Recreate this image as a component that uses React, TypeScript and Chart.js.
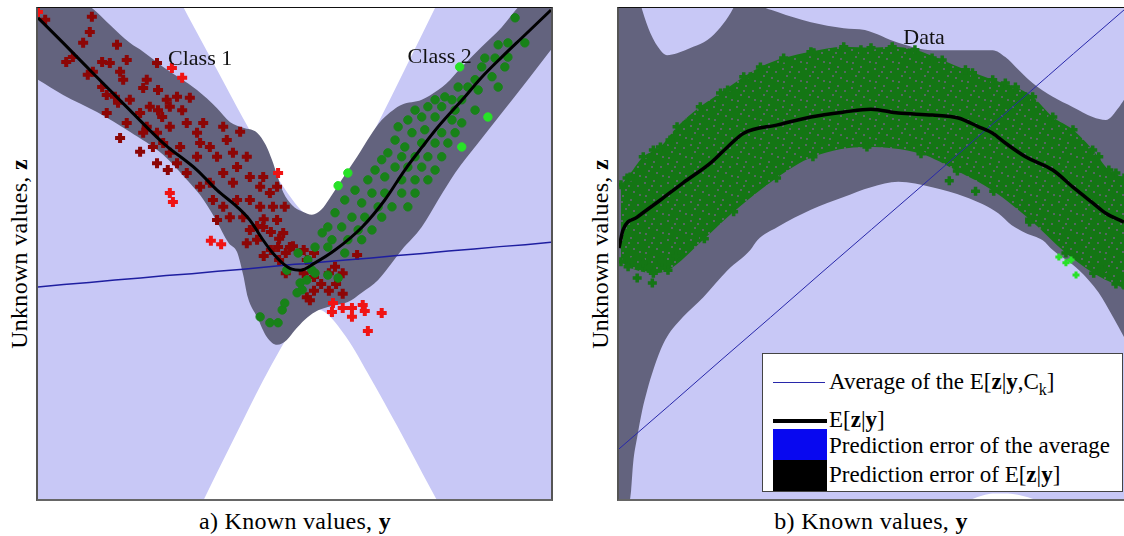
import React, { useEffect, useRef } from "react";
import { Chart, registerables } from "chart.js";

Chart.register(...registerables);

// ---------------- LEFT PANEL (a) ----------------
// Average of the class-conditional expectations and its prediction error
const leftBandX = [0, 5, 10, 15, 20, 25, 30, 35, 40, 45, 50, 52, 54, 56, 60, 65, 70, 75, 80, 85, 90, 95, 100];
const leftAvg = [43.2, 43.7, 44.1, 44.6, 45.0, 45.5, 45.9, 46.4, 46.8, 47.3, 47.8, 47.9, 48.1, 48.3, 48.7, 49.1, 49.6, 50.0, 50.5, 50.9, 51.4, 51.8, 52.3];
const leftAvgErr = [113.3, 102.8, 92.5, 82.0, 71.7, 61.3, 51.0, 40.8, 30.7, 21.0, 12.6, 10.3, 9.4, 10.3, 15.6, 24.8, 34.7, 44.9, 55.1, 65.5, 75.8, 86.2, 96.6];

// E[z|y]
const leftMeanX = [0, 4.9, 11.5, 17.9, 24.4, 31.0, 34.9, 38.8, 41.3, 43.9, 45.6, 47.6, 49.5, 51.1, 54.0, 57.9, 63.2, 67.6, 71.5, 74.9, 78.0, 82.7, 86.5, 90.4, 94.5, 100];
const leftMeanY = [98.0, 92.9, 85.9, 79.2, 72.5, 67.0, 62.9, 59.5, 56.8, 52.7, 50.3, 48.1, 46.8, 46.6, 48.1, 50.7, 55.4, 60.9, 67.0, 71.7, 75.8, 81.3, 85.9, 90.0, 94.1, 99.6];

// prediction error band of E[z|y]
const leftErrUpX = [0, 6.2, 10.5, 14.0, 17.9, 20.5, 24.4, 31.0, 34.9, 37.4, 40.0, 42.7, 44.4, 45.6, 46.6, 47.8, 49.5, 51.6, 53.4, 55.2, 56.9, 59.2, 62.2, 64.7, 67.0, 69.2, 70.9, 74.8, 78.0, 79.5, 82.6, 86.5, 90.4, 92.8, 95.9, 100];
const leftErrUpY = [105.7, 102.7, 100.0, 96.6, 92.9, 91.1, 88.0, 83.3, 79.6, 76.8, 75.6, 74.6, 72.1, 69.1, 66.0, 62.5, 59.9, 58.5, 57.9, 58.9, 61.3, 65.0, 69.7, 73.9, 77.2, 79.2, 80.3, 81.3, 83.3, 84.5, 88.0, 92.1, 96.1, 99.2, 102.7, 105.7];
const leftErrLoX = [0, 4.9, 11.5, 17.9, 24.4, 28.7, 31.6, 34.5, 37.2, 38.8, 40.0, 40.9, 42.7, 44.6, 46.6, 48.5, 50.1, 52.0, 54.0, 56.5, 60.4, 63.1, 66.3, 69.0, 70.9, 74.8, 78.0, 81.3, 85.8, 90.4, 95.5, 100];
const leftErrLoY = [85.4, 82.3, 78.8, 74.8, 70.1, 65.4, 61.9, 57.2, 52.1, 50.3, 45.6, 41.1, 37.1, 33.0, 31.4, 32.4, 34.4, 36.5, 38.1, 39.1, 40.1, 42.0, 44.6, 48.1, 50.7, 55.4, 60.9, 66.4, 72.5, 78.6, 85.4, 91.5];

// Class 1 samples (dark red) and outliers (bright red)
const class1X = [1.4, 10.5, 10.1, 8.8, 15.4, 6.8, 5.5, 12.5, 14.0, 17.3, 9.7, 10.7, 16.0, 16.6, 12.5, 13.4, 15.0, 13.4, 15.6, 17.9, 20.5, 21.2, 23.2, 23.4, 25.1, 23.4, 21.8, 19.9, 17.3, 21.2, 24.2, 25.7, 27.1, 29.6, 28.1, 29.0, 25.7, 23.2, 20.5, 16.0, 19.9, 22.4, 24.4, 25.7, 27.7, 23.2, 25.3, 27.1, 29.0, 31.0, 31.6, 31.0, 33.5, 32.2, 36.1, 39.4, 36.8, 34.9, 38.0, 40.7, 38.8, 36.1, 33.5, 31.6, 34.1, 38.0, 41.3, 43.9, 43.3, 45.2, 46.6, 41.3, 38.8, 36.1, 37.4, 40.0, 43.3, 45.8, 48.1, 34.9, 41.3, 43.9, 46.6, 47.8, 42.7, 40.7, 46.8, 49.1, 42.7, 44.0, 45.4, 47.0, 45.4, 48.3, 44.0, 47.0, 49.7, 51.8, 52.4, 53.8, 48.3, 51.8, 53.8, 55.2, 56.7, 58.1, 59.4, 53.8, 56.7, 52.4, 62.2, 59.4, 57.9, 53.0];
const class1Y = [97.6, 98.2, 95.1, 92.9, 92.5, 90.0, 89.0, 89.0, 88.8, 89.4, 86.4, 87.0, 87.0, 85.4, 83.9, 82.3, 81.9, 78.6, 80.7, 81.3, 83.7, 85.4, 88.8, 83.3, 81.3, 79.2, 79.9, 78.6, 76.6, 75.8, 77.8, 79.9, 81.9, 81.7, 79.2, 76.6, 75.8, 74.6, 74.6, 73.5, 70.7, 71.7, 72.5, 70.5, 71.7, 68.4, 67.0, 68.4, 66.4, 69.7, 72.5, 74.6, 71.7, 76.6, 75.8, 74.8, 73.1, 69.7, 70.5, 69.7, 67.6, 66.4, 64.4, 63.6, 60.9, 64.4, 65.6, 65.6, 63.6, 62.3, 63.6, 60.9, 60.9, 59.5, 57.4, 57.4, 59.5, 59.5, 59.5, 56.8, 54.8, 55.4, 56.8, 54.2, 52.8, 52.1, 51.3, 51.3, 55.6, 57.0, 54.4, 53.0, 50.7, 50.1, 49.5, 48.7, 51.5, 50.7, 48.7, 50.1, 46.0, 46.0, 45.2, 43.8, 46.0, 43.8, 46.0, 42.4, 42.4, 41.1, 49.7, 41.8, 47.3, 40.5];
const class1OutX = [0.0, 26.1, 28.1, 25.7, 26.3, 33.7, 35.7, 46.8, 57.5, 57.3, 59.4, 61.2, 61.2, 63.3, 63.7, 67.0, 64.3];
const class1OutY = [99.2, 87.8, 85.8, 62.3, 60.5, 52.6, 51.9, 66.4, 39.9, 38.1, 38.9, 38.9, 37.1, 39.5, 38.3, 37.9, 34.2];

// Class 2 samples (dark green) and outliers (bright green)
const class2X = [93.0, 94.9, 91.6, 89.7, 91.6, 89.1, 87.1, 86.5, 91.0, 85.2, 88.5, 83.8, 81.9, 85.8, 89.7, 77.4, 79.3, 80.7, 82.6, 76.0, 78.7, 81.3, 85.2, 73.5, 72.1, 74.8, 77.4, 80.7, 82.6, 70.2, 72.9, 75.4, 78.7, 81.3, 69.6, 71.5, 74.8, 77.4, 79.9, 68.2, 70.9, 73.5, 76.0, 78.7, 67.0, 69.6, 72.1, 74.8, 77.4, 65.7, 67.6, 70.9, 73.5, 76.0, 64.3, 61.8, 65.1, 67.6, 70.9, 73.5, 59.8, 63.1, 66.3, 69.0, 72.1, 57.9, 61.2, 63.7, 67.0, 56.5, 59.2, 62.4, 65.1, 55.4, 57.3, 60.4, 63.1, 54.0, 56.5, 50.7, 53.4, 54.0, 52.4, 51.1, 51.5, 56.5, 58.5, 59.8, 52.6, 50.5, 43.3, 45.2, 46.8, 47.6, 48.1, 48.5];
const class2Y = [98.0, 92.9, 92.9, 92.5, 90.0, 89.8, 89.8, 88.0, 88.0, 85.4, 86.0, 83.9, 83.9, 83.3, 83.9, 81.3, 81.9, 81.3, 81.3, 79.9, 79.9, 79.2, 79.2, 79.2, 77.2, 77.8, 77.8, 77.2, 76.6, 75.8, 74.6, 75.2, 74.6, 74.6, 73.1, 71.7, 72.5, 72.5, 72.5, 70.5, 69.7, 69.7, 69.7, 69.7, 69.1, 67.6, 67.6, 67.6, 67.0, 67.0, 65.6, 65.0, 65.0, 65.0, 65.0, 62.9, 62.3, 62.3, 62.3, 62.3, 60.9, 60.3, 59.5, 59.5, 59.5, 58.3, 57.4, 57.4, 57.4, 55.4, 55.4, 54.8, 54.8, 54.2, 52.8, 52.8, 52.8, 51.3, 51.3, 50.1, 46.6, 46.0, 44.6, 44.0, 42.6, 45.6, 45.0, 50.1, 48.7, 42.0, 37.1, 35.9, 35.9, 38.5, 39.9, 46.6];
const class2OutX = [82.2, 87.7, 82.6, 60.4, 58.5];
const class2OutY = [88.0, 77.8, 71.7, 66.4, 63.8];

const leftNoteText = ["Class 1", "Class 2"];
const leftNoteX = [31.6, 78.3];
const leftNoteY = [89.6, 90.0];

// ---------------- RIGHT PANEL (b) ----------------
const rightBandX = [0, 10, 20, 30, 40, 50, 60, 65, 70, 72, 74, 76, 78, 80, 82, 85, 90, 100];
const rightAvg = [10.2, 19.1, 28.1, 37.0, 46.0, 54.9, 63.8, 68.3, 72.8, 74.6, 76.4, 78.1, 79.9, 81.7, 83.5, 86.2, 90.7, 99.6];
const rightAvgErr = [168.4, 147.1, 126.7, 107.7, 91.2, 78.5, 71.8, 71.3, 72.8, 73.9, 75.3, 77.0, 78.9, 81.1, 83.5, 87.4, 94.9, 112.1];

const rightMeanX = [0, 0.8, 3.6, 8.2, 12.7, 18.1, 21.5, 24.7, 31.4, 38.0, 44.5, 49.9, 55.3, 62.0, 67.2, 71.2, 74.0, 76.5, 80.5, 85.9, 89.9, 93.8, 96.4, 100];
const rightMeanY = [51.1, 54.8, 57.4, 60.9, 64.4, 68.4, 71.7, 74.5, 76.2, 77.8, 78.8, 79.4, 78.6, 78.2, 77.6, 75.8, 74.5, 72.5, 69.7, 67.0, 63.5, 60.3, 58.2, 56.4];

const rightErrUpX = [0, 3.8, 4.6, 6.2, 8.2, 9.5, 11.5, 14.7, 17.5, 20.1, 22.1, 23.5, 25.0, 28.0, 31.4, 38.0, 44.5, 48.7, 55.3, 62.0, 67.2, 74.0, 76.5, 79.1, 81.9, 85.9, 89.9, 93.8, 96.4, 99.0, 100];
const rightErrUpY = [105.7, 102.6, 99.6, 94.9, 91.4, 90.4, 90.8, 92.1, 93.5, 96.1, 99.0, 101.6, 103.7, 100.6, 99.2, 97.1, 95.9, 95.5, 92.9, 91.4, 91.4, 91.4, 90.0, 87.4, 84.7, 81.9, 79.8, 77.8, 77.2, 79.8, 81.3];
const rightErrLoX = [0, 1.8, 2.4, 2.8, 3.6, 4.6, 5.6, 6.8, 8.2, 9.5, 12.7, 16.7, 21.5, 26.0, 27.4, 31.4, 38.0, 44.5, 49.9, 55.3, 62.0, 68.6, 75.1, 77.7, 80.5, 83.9, 85.9, 91.1, 95.0, 97.8, 100];
const rightErrLoY = [-6.3, -2.2, 1.8, 7.3, 12.6, 18.1, 22.2, 26.3, 30.3, 33.0, 37.1, 41.1, 46.6, 50.7, 52.7, 55.4, 58.9, 61.5, 63.5, 64.6, 63.5, 61.5, 58.2, 55.8, 54.2, 52.7, 50.7, 46.6, 42.0, 37.1, 33.0];

// dense data cloud: outer envelope + scattered edge samples
const cloudUpX = [0.4, 1.6, 4.8, 8.2, 11.5, 16.1, 20.1, 24.7, 28.0, 32.6, 38.0, 44.5, 49.9, 54.1, 58.6, 64.0, 68.6, 74.0, 78.5, 81.9, 85.9, 89.9, 93.8, 97.0, 100];
const cloudUpY = [64.0, 65.4, 69.7, 71.7, 75.8, 79.9, 82.7, 86.0, 88.0, 89.8, 91.1, 92.1, 91.9, 92.1, 91.5, 89.4, 87.4, 85.4, 83.9, 81.9, 77.8, 75.2, 71.1, 67.0, 65.4];
const cloudLoX = [0.4, 1.8, 6.8, 9.7, 16.9, 22.7, 31.2, 38.4, 49.1, 59.8, 67.0, 74.2, 81.3, 88.5, 94.0, 98.4, 100];
const cloudLoY = [48.3, 47.3, 46.0, 46.6, 53.0, 58.5, 65.4, 69.7, 71.7, 70.3, 66.8, 62.7, 57.0, 50.1, 46.0, 43.8, 43.6];
const cloudEdgeX = [2.2, 6.8, 10.1, 13.5, 21.5, 26.0, 38.6, 47.9, 62.0, 70.0, 76.5, 80.5, 95.0, 98.4, 2.6, 5.8, 8.5, 11.3, 3.6, 6.6, 95.6, 99.8, 65.4, 70.6, 81.3, 4.8];
const cloudEdgeY = [65.6, 71.1, 73.1, 76.6, 83.3, 86.0, 90.9, 91.5, 89.8, 86.8, 84.7, 81.9, 69.7, 66.4, 48.3, 47.1, 48.3, 49.5, 45.0, 44.0, 46.6, 43.8, 64.8, 62.7, 56.4, 48.1];
const cloudOutX = [87.1, 88.5, 89.5, 90.5];
const cloudOutY = [49.3, 48.1, 48.7, 45.6];

const rightNoteText = ["Data"];
const rightNoteX = [60.4];
const rightNoteY = [93.9];

// ---------------- styles ----------------
const LAVENDER = "rgb(200,200,246)";
const GRAY = "rgb(99,99,126)";
const DARK_RED = "rgb(140,6,6)";
const BRIGHT_RED = "rgb(240,20,20)";
const DARK_GREEN = "rgb(24,130,24)";
const CLOUD_GREEN = "rgb(20,118,20)";
const BRIGHT_GREEN = "rgb(40,225,40)";
const SERIF = '"Liberation Serif", "Times New Roman", serif';

// speckled fill imitating the densely packed markers of the data cloud
function cloudPattern(): any {
  const c = document.createElement("canvas");
  c.width = 23;
  c.height = 19;
  const g = c.getContext("2d") as CanvasRenderingContext2D;
  g.fillStyle = CLOUD_GREEN;
  g.fillRect(0, 0, 23, 19);
  g.fillStyle = "rgb(84,104,96)";
  const specks = [[2, 3], [11, 1], [18, 6], [6, 10], [14, 12], [20, 15], [3, 16], [9, 6]];
  specks.forEach(([x, y]) => g.fillRect(x, y, 2, 2));
  return g.createPattern(c, "repeat");
}

const pts = (xs: number[], ys: number[]) => xs.map((x, i) => ({ x, y: ys[i] }));

const hidden = (data: any[], order: number) => ({
  data,
  borderWidth: 0,
  pointRadius: 0,
  fill: false,
  order,
  cubicInterpolationMode: "monotone",
});

const band = (data: any[], target: number, color: any, order: number) => ({
  data,
  borderWidth: 0,
  borderColor: "rgba(0,0,0,0)",
  backgroundColor: color,
  pointRadius: 0,
  fill: target,
  order,
  cubicInterpolationMode: "monotone",
});

const scatter = (data: any[], color: string, style: string, r: number, bw: number, order: number) => ({
  data,
  showLine: false,
  pointStyle: style,
  pointRadius: r,
  pointBorderWidth: bw,
  pointBackgroundColor: color,
  pointBorderColor: color,
  order,
});

const curve = (data: any[], color: string, width: number, order: number, mono = true) => ({
  data,
  borderColor: color,
  borderWidth: width,
  pointRadius: 0,
  fill: false,
  order,
  cubicInterpolationMode: mono ? "monotone" : "default",
});

const notesPlugin = (texts: string[], xs: number[], ys: number[]) => ({
  id: "notes",
  afterDatasetsDraw(chart: any) {
    const { ctx, scales } = chart;
    ctx.save();
    ctx.font = `22px ${SERIF}`;
    ctx.fillStyle = "#111";
    ctx.textAlign = "center";
    ctx.textBaseline = "middle";
    texts.forEach((t, i) => {
      ctx.fillText(t, scales.x.getPixelForValue(xs[i]), scales.y.getPixelForValue(ys[i]));
    });
    ctx.restore();
  },
});

const baseOptions: any = {
  responsive: false,
  animation: false,
  events: [],
  layout: { padding: 0, autoPadding: false },
  plugins: { legend: { display: false }, tooltip: { enabled: false } },
  scales: {
    x: { type: "linear", min: 0, max: 100, display: false },
    y: { type: "linear", min: 0, max: 100, display: false },
  },
  elements: { point: { radius: 0 } },
};

function leftConfig(): any {
  const avgLo = leftBandX.map((x, i) => ({ x, y: leftAvg[i] - leftAvgErr[i] }));
  const avgHi = leftBandX.map((x, i) => ({ x, y: leftAvg[i] + leftAvgErr[i] }));
  return {
    type: "line",
    data: {
      datasets: [
        hidden(avgLo, 20),
        band(avgHi, 0, LAVENDER, 20),
        hidden(pts(leftErrLoX, leftErrLoY), 18),
        band(pts(leftErrUpX, leftErrUpY), 2, GRAY, 18),
        scatter(pts(class1X, class1Y), DARK_RED, "cross", 5, 4, 8),
        scatter(pts(class1OutX, class1OutY), BRIGHT_RED, "cross", 5, 4, 8),
        scatter(pts(class2X, class2Y), DARK_GREEN, "circle", 4.2, 1, 7),
        scatter(pts(class2OutX, class2OutY), BRIGHT_GREEN, "circle", 4.2, 1, 7),
        curve(pts(leftBandX, leftAvg), "rgb(30,30,160)", 1.5, 3, false),
        curve(pts(leftMeanX, leftMeanY), "#000", 3, 2),
      ],
    },
    options: baseOptions,
    plugins: [notesPlugin(leftNoteText, leftNoteX, leftNoteY)],
  };
}

function rightConfig(): any {
  const avgLo = rightBandX.map((x, i) => ({ x, y: rightAvg[i] - rightAvgErr[i] }));
  const avgHi = rightBandX.map((x, i) => ({ x, y: rightAvg[i] + rightAvgErr[i] }));
  const cloudLo = hidden(pts(cloudLoX, cloudLoY), 10);
  const cloudHi = band(pts(cloudUpX, cloudUpY), 4, cloudPattern(), 10);
  const edgePts = { pointRadius: 4.5, pointStyle: "cross", pointBorderWidth: 3.5, pointBorderColor: CLOUD_GREEN, pointBackgroundColor: CLOUD_GREEN };
  return {
    type: "line",
    data: {
      datasets: [
        hidden(avgLo, 20),
        band(avgHi, 0, LAVENDER, 20),
        hidden(pts(rightErrLoX, rightErrLoY), 18),
        band(pts(rightErrUpX, rightErrUpY), 2, GRAY, 18),
        Object.assign(cloudLo, edgePts),
        Object.assign(cloudHi, edgePts),
        scatter(pts(cloudEdgeX, cloudEdgeY), CLOUD_GREEN, "cross", 4.5, 3.5, 9),
        scatter(pts(cloudOutX, cloudOutY), BRIGHT_GREEN, "cross", 3.5, 3, 9),
        curve(pts(rightBandX, rightAvg), "rgb(40,40,170)", 1, 3, false),
        curve(pts(rightMeanX, rightMeanY), "#000", 3.5, 2),
      ],
    },
    options: baseOptions,
    plugins: [notesPlugin(rightNoteText, rightNoteX, rightNoteY)],
  };
}

const titleStyle: React.CSSProperties = {
  position: "absolute",
  whiteSpace: "nowrap",
  fontSize: 24,
  letterSpacing: 0.3,
  lineHeight: "26px",
  fontFamily: SERIF,
  color: "#000",
};

const legendText: React.CSSProperties = {
  position: "absolute",
  left: 66,
  whiteSpace: "nowrap",
  fontSize: 23,
  lineHeight: "28px",
  fontFamily: SERIF,
  color: "#000",
};

export default function App() {
  const leftRef = useRef<HTMLCanvasElement>(null);
  const rightRef = useRef<HTMLCanvasElement>(null);

  useEffect(() => {
    const c1 = new Chart(leftRef.current as HTMLCanvasElement, leftConfig());
    const c2 = new Chart(rightRef.current as HTMLCanvasElement, rightConfig());
    return () => {
      c1.destroy();
      c2.destroy();
    };
  }, []);

  return (
    <div style={{ position: "absolute", left: 0, top: 0, width: 1124, height: 536, background: "#fff", overflow: "hidden" }}>
      <div
        style={{
          position: "absolute", left: 36, top: 7, width: 513, height: 491,
          borderTop: "1px solid #111", borderLeft: "2px solid #555", borderRight: "2px solid #555", borderBottom: "2px solid #666",
        }}
      >
        <canvas ref={leftRef} width={513} height={491} style={{ display: "block" }} />
      </div>
      <div
        style={{
          position: "absolute", left: 617, top: 7, width: 505, height: 491,
          borderTop: "1px solid #111", borderLeft: "2px solid #555", borderBottom: "2px solid #666",
        }}
      >
        <canvas ref={rightRef} width={505} height={491} style={{ display: "block" }} />
      </div>

      {/* y-axis titles */}
      <div style={{ ...titleStyle, left: 19, top: 254, transform: "translate(-50%,-50%) rotate(-90deg)" }}>
        Unknown values, <b>z</b>
      </div>
      <div style={{ ...titleStyle, left: 600, top: 254, transform: "translate(-50%,-50%) rotate(-90deg)" }}>
        Unknown values, <b>z</b>
      </div>
      {/* x-axis titles */}
      <div style={{ ...titleStyle, left: 295, top: 521, transform: "translate(-50%,-50%)" }}>
        a) Known values, <b>y</b>
      </div>
      <div style={{ ...titleStyle, left: 871, top: 521, transform: "translate(-50%,-50%)" }}>
        b) Known values, <b>y</b>
      </div>

      {/* legend */}
      <div
        style={{
          position: "absolute", left: 762, top: 353, width: 361, height: 139, boxSizing: "border-box",
          background: "#fff", border: "1px solid #444",
        }}
      >
        <div style={{ position: "absolute", left: 10, top: 28, width: 52, height: 1, background: "rgb(40,40,170)" }} />
        <div style={{ ...legendText, top: 14 }}>
          Average of the E[<b>z</b>|<b>y</b>,C<sub style={{ fontSize: 16, verticalAlign: -6, lineHeight: 0 }}>k</sub>]
        </div>
        <div style={{ position: "absolute", left: 10, top: 65, width: 54, height: 4, background: "#000" }} />
        <div style={{ ...legendText, top: 52 }}>
          E[<b>z</b>|<b>y</b>]
        </div>
        <div style={{ position: "absolute", left: 10, top: 75, width: 54, height: 31, background: "rgb(8,8,240)" }} />
        <div style={{ position: "absolute", left: 10, top: 106, width: 54, height: 31, background: "#000" }} />
        <div style={{ ...legendText, top: 78 }}>Prediction error of the average</div>
        <div style={{ ...legendText, top: 107 }}>
          Prediction error of E[<b>z</b>|<b>y</b>]
        </div>
      </div>
    </div>
  );
}
